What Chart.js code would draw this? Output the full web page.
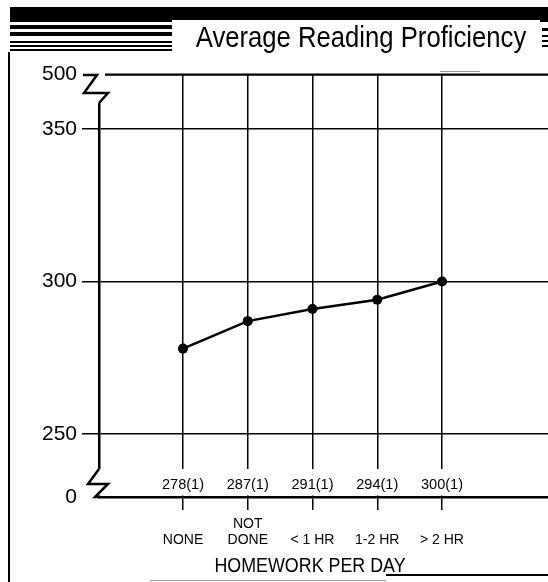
<!DOCTYPE html>
<html><head><meta charset="utf-8">
<script src="https://cdn.jsdelivr.net/npm/chart.js@4/dist/chart.umd.min.js"></script>
<style>html,body{margin:0;padding:0;background:#fff;}#wrap{position:relative;width:548px;height:582px;}</style>
</head><body><div id="wrap"><canvas id="c" width="548" height="582"></canvas></div>
<script>
const chartTitle = 'Average Reading Proficiency';
const categories = [['', 'NONE'], ['NOT', 'DONE'], ['', '< 1 HR'], ['', '1-2 HR'], ['', '> 2 HR']];
const proficiency = [278, 287, 291, 294, 300];
const standardErrors = [1, 1, 1, 1, 1];
const yTickValues = [250, 300, 350];
const yBreakLabels = ['0', '500'];
const xAxisTitle = 'HOMEWORK PER DAY';

const FONT = "'Liberation Sans', Arial, Helvetica, sans-serif";
const Y_MIN = 229.34, Y_MAX = 367.87;

function condensedText(c, text, x, y, sx) {
  c.save();
  c.translate(x, y);
  c.scale(sx, 1);
  c.fillText(text, 0, 0);
  c.restore();
}

const deco = {
  id: 'deco',
  beforeDraw(chart) {
    const c = chart.ctx;
    c.save();
    c.fillStyle = '#fff';
    c.fillRect(0, 0, 548, 582);
    c.fillStyle = '#000';
    c.fillRect(10, 7, 538, 15);
    [[25, 4], [32, 4], [41, 2], [45, 2], [49, 2]].forEach(([y, h]) => c.fillRect(10, y, 162, h));
    [[28, 3], [35, 2], [40, 2], [45, 2]].forEach(([y, h]) => c.fillRect(542, y, 6, h));
    c.fillStyle = '#fff';
    c.fillRect(172, 20, 368, 51);
    c.fillStyle = '#000';
    c.fillRect(8, 52, 2, 530);
    c.fillRect(386, 574, 162, 2);
    c.fillStyle = '#999';
    c.fillRect(150, 580, 236, 1);
    c.fillRect(440, 71, 40, 1);
    c.fillStyle = '#000';
    c.font = '29px ' + FONT;
    c.textAlign = 'center';
    c.textBaseline = 'alphabetic';
    condensedText(c, chartTitle, 361, 47, 0.885);
    c.restore();
  },
  afterDraw(chart) {
    const c = chart.ctx;
    const xs = chart.scales.x;
    c.save();
    c.fillStyle = '#fff';
    c.fillRect(86, 469, 462, 26.5);
    c.fillRect(94, 73, 11, 30);
    c.strokeStyle = '#000';
    c.lineWidth = 2.5;
    c.lineJoin = 'miter';
    c.beginPath();
    c.moveTo(99, 469); c.lineTo(88, 484); c.lineTo(108, 484); c.lineTo(95, 497); c.lineTo(100, 497);
    c.stroke();
    c.beginPath();
    c.moveTo(83, 75); c.lineTo(97, 75); c.lineTo(84, 93); c.lineTo(108, 93); c.lineTo(99, 103);
    c.stroke();
    c.beginPath();
    c.lineWidth = 2;
    c.moveTo(105, 74.5); c.lineTo(548, 74.5);
    c.stroke();
    c.fillStyle = '#000';
    c.font = '15px ' + FONT;
    c.textAlign = 'center';
    c.textBaseline = 'middle';
    proficiency.forEach((v, i) => {
      condensedText(c, v + '(' + standardErrors[i] + ')', xs.getPixelForValue(i), 485, 0.97);
    });
    c.font = '21px ' + FONT;
    condensedText(c, xAxisTitle, 310, 566, 0.85);
    c.restore();
  }
};

new Chart(document.getElementById('c'), {
  type: 'line',
  data: {
    datasets: [{
      data: proficiency.map((v, i) => ({ x: i, y: v })),
      borderColor: '#000',
      borderWidth: 2.5,
      pointRadius: 5,
      pointBackgroundColor: '#000',
      pointBorderWidth: 0,
      tension: 0
    }]
  },
  options: {
    responsive: false,
    animation: false,
    devicePixelRatio: 1,
    layout: { autoPadding: false, padding: { top: 74.5, right: 0, left: 0, bottom: 0 } },
    plugins: { legend: { display: false }, tooltip: { enabled: false } },
    scales: {
      x: {
        type: 'linear',
        min: -1.2973,
        max: 5.637,
        afterBuildTicks: s => { s.ticks = categories.map((_, i) => ({ value: i })); },
        afterFit: s => { s.height = 85; s.paddingLeft = 0; s.paddingRight = 0; },
        ticks: {
          callback: (v, i) => categories[i],
          color: '#000',
          font: { family: FONT, size: 14, lineHeight: 1.15 },
          padding: 6,
          maxRotation: 0,
          autoSkip: false
        },
        grid: { color: '#000', lineWidth: 1.5, tickLength: 13, drawOnChartArea: true },
        border: { color: '#000', width: 2.5 }
      },
      y: {
        min: Y_MIN,
        max: Y_MAX,
        afterBuildTicks: s => {
          s.ticks = [{ value: Y_MIN }].concat(yTickValues.map(v => ({ value: v })), [{ value: Y_MAX }]);
        },
        afterFit: s => { s.width = 99; s.paddingTop = 0; s.paddingBottom = 0; },
        ticks: {
          callback: (v, i, t) => i === 0 ? yBreakLabels[0] : (i === t.length - 1 ? yBreakLabels[1] : String(v)),
          color: '#000',
          font: { family: FONT, size: 21 },
          padding: 5
        },
        grid: {
          color: '#000',
          lineWidth: 1.5,
          tickLength: 17,
          tickColor: ctx => (ctx.index === 0 || ctx.index === 4) ? 'rgba(0,0,0,0)' : '#000'
        },
        border: { color: '#000', width: 2.5 }
      }
    }
  },
  plugins: [deco]
});
</script></body></html>
